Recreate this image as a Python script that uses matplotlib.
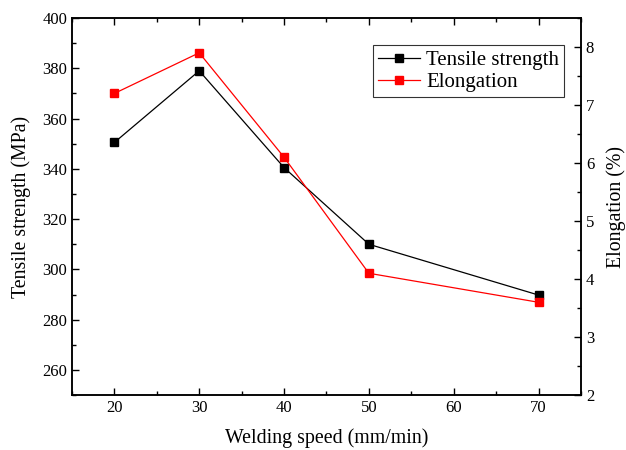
import matplotlib.pyplot as plt
from matplotlib.ticker import MultipleLocator

plt.rcParams['font.family'] = ['Liberation Serif', 'DejaVu Serif']

speed = [20, 30, 40, 50, 70]
tensile = [350.5, 379, 340.5, 310, 289.8]
elongation = [7.2, 7.9, 6.1, 4.1, 3.6]

fig = plt.figure(figsize=(6.26, 4.5), dpi=100)
ax = fig.add_axes([0.115, 0.122, 0.813, 0.838])
ax2 = ax.twinx()

l1, = ax.plot(speed, tensile, color='black', lw=0.9, marker='s', ms=5.3,
              label='Tensile strength')
l2, = ax2.plot(speed, elongation, color='red', lw=0.9, marker='s', ms=5.3,
               label='Elongation')

ax.set_xlim(15, 75)
ax.set_ylim(250, 400)
ax2.set_ylim(2, 8.5)

ax.xaxis.set_major_locator(MultipleLocator(10))
ax.xaxis.set_minor_locator(MultipleLocator(5))
ax.yaxis.set_major_locator(MultipleLocator(20))
ax.yaxis.set_minor_locator(MultipleLocator(10))
ax2.yaxis.set_major_locator(MultipleLocator(1))
ax2.yaxis.set_minor_locator(MultipleLocator(0.5))
ax.set_xticks(range(20, 71, 10))
ax.set_yticks(range(260, 401, 20))

ax.tick_params(axis='x', which='both', direction='in', top=True, labelsize=12)
ax.tick_params(axis='y', which='both', direction='in', labelsize=12)
ax2.tick_params(axis='y', which='both', direction='in', labelsize=12)
for a in (ax, ax2):
    a.tick_params(which='major', length=5, width=1)
    a.tick_params(which='minor', length=3, width=1)
    for s in a.spines.values():
        s.set_linewidth(1.1)

ax.set_xlabel('Welding speed (mm/min)', fontsize=14.3, labelpad=9)
ax.set_ylabel('Tensile strength (MPa)', fontsize=14.3, labelpad=8)
ax2.set_ylabel('Elongation (%)', fontsize=14.3, labelpad=9)

leg = ax2.legend(handles=[l1, l2], loc='upper right',
                 bbox_to_anchor=(0.967, 0.928), fontsize=15, frameon=True,
                 fancybox=False, edgecolor='black', borderpad=0.25,
                 labelspacing=0.12, handlelength=2.0, handletextpad=0.3,
                 borderaxespad=0)
leg.get_frame().set_linewidth(0.8)

fig.savefig('out.png', dpi=100)
